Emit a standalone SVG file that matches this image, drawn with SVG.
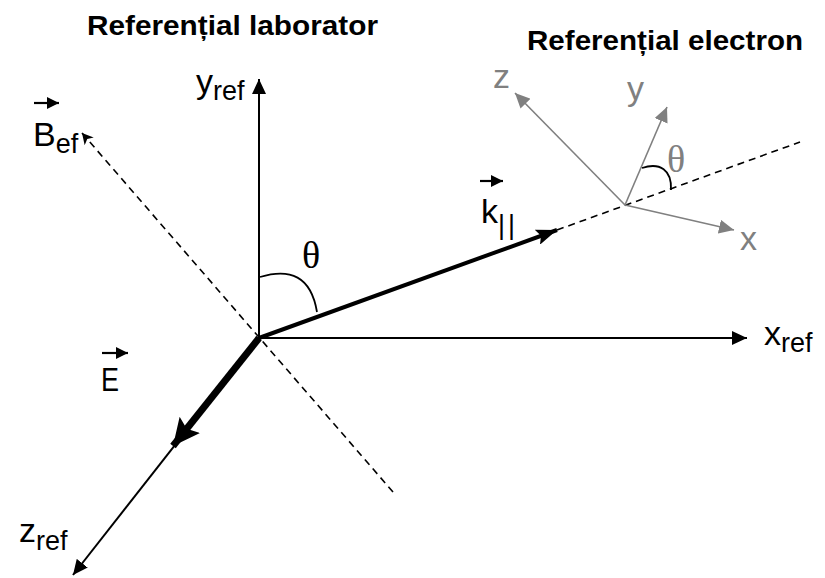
<svg xmlns="http://www.w3.org/2000/svg" width="825" height="578" viewBox="0 0 825 578">
<style>
.t{font-family:"Liberation Sans",Arial,sans-serif;fill:#000}
.title{font-family:"Liberation Sans",Arial,sans-serif;font-weight:bold;font-size:28px;fill:#000}
.m{font-size:34px}
.s{font-size:27px}
.g{fill:#808080}
.th{font-family:"Liberation Serif","Times New Roman",serif;font-size:38px}
.ax{stroke:#000;stroke-width:2;fill:none}
.dash{stroke:#000;stroke-width:1.6;stroke-dasharray:7 5;fill:none}
.gax{stroke:#808080;stroke-width:1.6;fill:none}
.arc{stroke:#000;stroke-width:1.8;fill:none}
.vec{stroke:#000;stroke-width:2.2}
</style>
<defs>
<marker id="ah" markerUnits="userSpaceOnUse" markerWidth="16" markerHeight="14" refX="15" refY="7" orient="auto">
<path d="M0,0 L15,7 L0,14 Z" fill="#000"/>
</marker>
<marker id="ahs" markerUnits="userSpaceOnUse" markerWidth="12" markerHeight="12" refX="11" refY="6" orient="auto">
<path d="M0,0 L11,6 L0,12 L3,6 Z" fill="#000"/>
</marker>
<marker id="ahk" markerUnits="userSpaceOnUse" markerWidth="22" markerHeight="16" refX="21" refY="8" orient="auto">
<path d="M0,0 L21,8 L0,16 L4,8 Z" fill="#000"/>
</marker>
<marker id="ahE" markerUnits="userSpaceOnUse" markerWidth="28" markerHeight="26" refX="27" refY="13" orient="auto">
<path d="M0,0 L27,13 L0,26 L5,13 Z" fill="#000"/>
</marker>
<marker id="ahg" markerUnits="userSpaceOnUse" markerWidth="16" markerHeight="14" refX="15" refY="7" orient="auto">
<path d="M0,0 L15,7 L0,14 Z" fill="#808080"/>
</marker>
<marker id="ahv" markerUnits="userSpaceOnUse" markerWidth="13" markerHeight="12" refX="12" refY="6" orient="auto">
<path d="M0,0 L12,6 L0,12 Z" fill="#000"/>
</marker>
</defs>

<g id="titles">
<text class="title" x="87" y="35" textLength="291" lengthAdjust="spacingAndGlyphs">Referențial laborator</text>
<text class="title" x="527" y="50" textLength="276" lengthAdjust="spacingAndGlyphs">Referențial electron</text>
</g>

<g id="connectors">
<line class="ax" x1="259" y1="338" x2="259" y2="79" marker-end="url(#ah)"/>
<line class="ax" x1="259" y1="338" x2="747" y2="338" marker-end="url(#ah)"/>
<line class="ax" x1="259" y1="338" x2="73" y2="575" marker-end="url(#ah)"/>
<line class="dash" x1="393" y1="492" x2="82" y2="133" marker-end="url(#ahs)"/>
<line class="dash" x1="557" y1="230" x2="800" y2="142"/>
<line stroke="#000" stroke-width="4" x1="259" y1="338" x2="557" y2="230" marker-end="url(#ahk)"/>
<line stroke="#000" stroke-width="7" x1="259" y1="338" x2="173" y2="446" marker-end="url(#ahE)"/>
<path class="arc" d="M260,277 C290,268 311,276 317,312"/>
</g>

<g id="electron-frame">
<line class="gax" x1="625" y1="205" x2="515" y2="93" marker-end="url(#ahg)"/>
<line class="gax" x1="625" y1="205" x2="667" y2="107" marker-end="url(#ahg)"/>
<line class="gax" x1="625" y1="205" x2="734" y2="230" marker-end="url(#ahg)"/>
<path class="arc" d="M642,168 C660,162 672,170 671,190"/>
<text class="t m g" x="493" y="88">z</text>
<text class="t m g" x="627" y="100">y</text>
<text class="t m g" x="740" y="250">x</text>
<text class="th g" x="667" y="172">θ</text>
</g>

<g id="label-yref">
<text class="t" x="196" y="93"><tspan class="m">y</tspan><tspan class="s" dy="7">ref</tspan></text>
</g>
<g id="label-xref">
<text class="t" x="764" y="345"><tspan class="m">x</tspan><tspan class="s" dy="7">ref</tspan></text>
</g>
<g id="label-zref">
<text class="t" x="19" y="542"><tspan class="m">z</tspan><tspan class="s" dy="8">ref</tspan></text>
</g>
<g id="label-Bef">
<line class="vec" x1="34" y1="103" x2="59" y2="103" marker-end="url(#ahv)"/>
<text class="t" x="33" y="146"><tspan class="m">B</tspan><tspan class="s" dy="7">ef</tspan></text>
</g>
<g id="label-E">
<line class="vec" x1="102" y1="353" x2="128" y2="353" marker-end="url(#ahv)"/>
<text class="t m" x="101" y="391" textLength="18" lengthAdjust="spacingAndGlyphs">E</text>
</g>
<g id="label-k">
<line class="vec" x1="480" y1="181" x2="503" y2="181" marker-end="url(#ahv)"/>
<text class="t" x="481" y="223"><tspan class="m">k</tspan><tspan class="s" dy="11" letter-spacing="3">||</tspan></text>
</g>
<g id="label-theta">
<text class="t th" x="302" y="268">θ</text>
</g>
</svg>
